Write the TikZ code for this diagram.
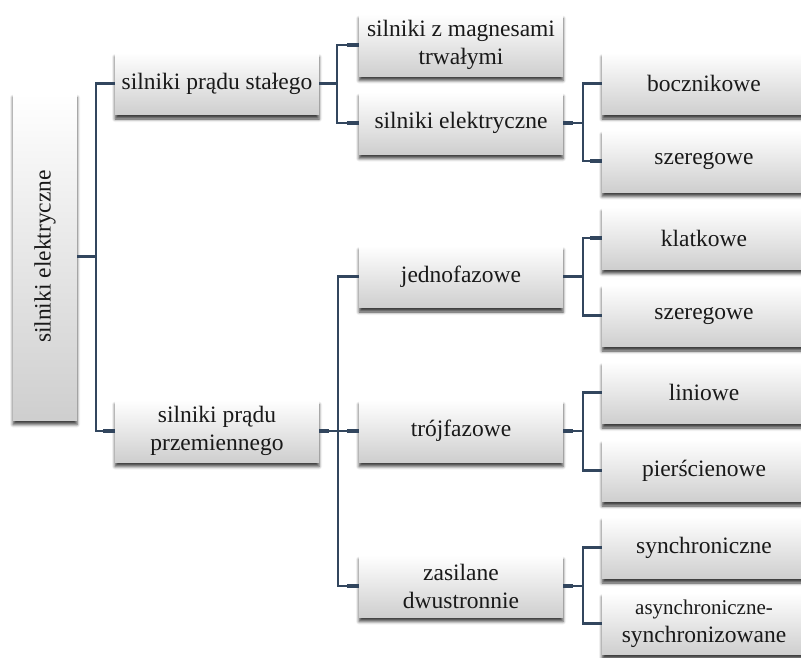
\documentclass[tikz,border=0pt]{standalone}
\usepackage{fontspec}
\setmainfont{Liberation Serif}
\usepackage{tikz}
\usetikzlibrary{shadows.blur}

\definecolor{linkblue}{RGB}{50,70,94}

\begin{document}
\begin{tikzpicture}[x=1pt,
            y=-1pt,
            box/.style={rectangle,
                        minimum width=204pt,
                        minimum height=62pt,
                        inner sep=2pt,
                        align=center,
                        top color=white,
                        middle color=white,
                        bottom color=gray!38,
                        text=black!90,
                        font=\fontsize{23.5}{28}\selectfont,
                        blur shadow={shadow xshift=0pt, shadow yshift=-4.5pt,
                                     shadow blur radius=3pt, shadow opacity=75}},
            link/.style={draw=linkblue, line width=2.2pt},
            stub/.style={draw=linkblue, line width=3.8pt}]

        \useasboundingbox (0,0) rectangle (801,657);

        % root
        \node[box, minimum width=64pt, minimum height=327pt] (root) at (45,256.5)
              {\rotatebox{90}{silniki elektryczne}};

        % first level
        \node[box] (dc)   at (217,83.5)  {silniki prądu stałego};
        \node[box] (ac)   at (217,431)   {silniki prądu\\przemiennego};

        % second level
        \node[box] (pm)   at (461,45)    {silniki z magnesami\\trwałymi};
        \node[box] (el)   at (461,123)   {silniki elektryczne};
        \node[box] (one)  at (461,276.5) {jednofazowe};
        \node[box] (three) at (461,431)  {trójfazowe};
        \node[box] (dual) at (461,586)   {zasilane\\dwustronnie};

        % third level
        \node[box] (shunt)  at (704,83.5)  {bocznikowe};
        \node[box] (series) at (704,161)   {szeregowe};
        \node[box] (cage)   at (704,238)   {klatkowe};
        \node[box] (ser2)   at (704,315.5) {szeregowe};
        \node[box] (lin)    at (704,392.5) {liniowe};
        \node[box] (ring)   at (704,470.5) {pierścienowe};
        \node[box] (sync)   at (704,547.5) {synchroniczne};
        \node[box] (async)  at (704,623.5)
              {\fontsize{21}{25}\selectfont asynchroniczne-\\synchronizowane};

        % connectors
        \foreach \a/\b/\d in {root/dc/19, root/ac/19,
                              dc/pm/18, dc/el/18,
                              ac/one/19, ac/three/19, ac/dual/19,
                              el/shunt/19.5, el/series/19.5,
                              one/cage/19.5, one/ser2/19.5,
                              three/lin/19.5, three/ring/19.5,
                              dual/sync/19.5, dual/async/19.5}
            \draw[link] (\a.east) -- ++(\d,0) |- (\b.west);

        \foreach \n in {dc,ac,pm,el,one,three,dual,shunt,series,cage,ser2,lin,ring,sync,async}
            \draw[stub] (\n.west) -- ++(-12,0);
        \foreach \n in {dc,ac,el,one,three,dual}
            \draw[stub] (\n.east) -- ++(10,0);

    \end{tikzpicture}
\end{document}
